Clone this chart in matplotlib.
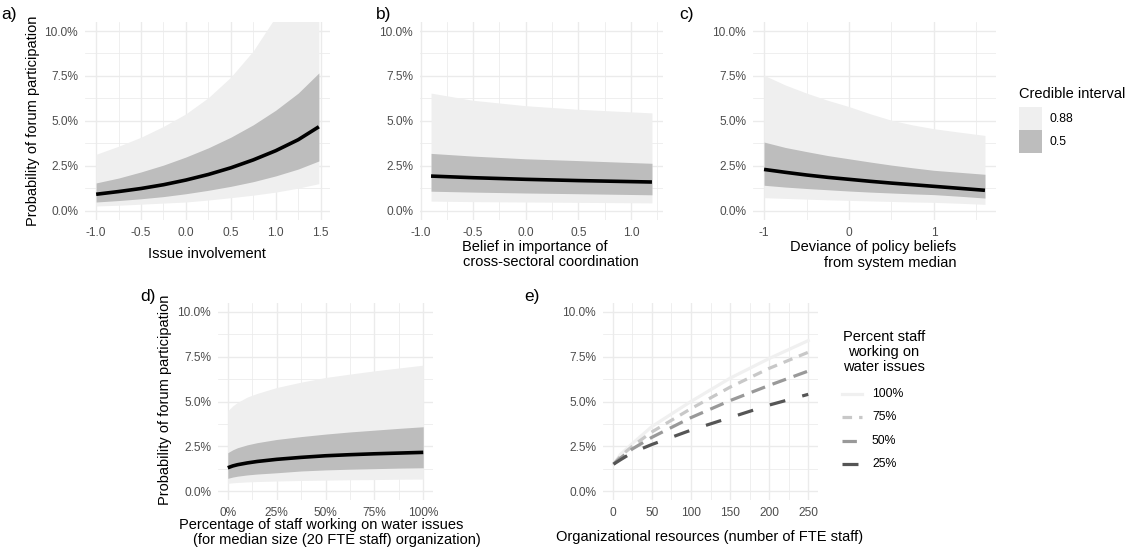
import numpy as np
import matplotlib
matplotlib.use("Agg")
import matplotlib.pyplot as plt
from matplotlib.ticker import FuncFormatter, MultipleLocator
from matplotlib.patches import Rectangle
from matplotlib.lines import Line2D

plt.rcParams['font.family'] = ['Liberation Sans', 'DejaVu Sans']

# ===== data (percent) =====
# a) issue involvement
a_x = [-1.0, -0.75, -0.5, -0.25, 0.0, 0.25, 0.5, 0.75, 1.0, 1.25, 1.48]
a_med = [0.93, 1.08, 1.25, 1.46, 1.72, 2.03, 2.4, 2.84, 3.35, 3.96, 4.68]
a_lo50 = [0.5, 0.58, 0.68, 0.8, 0.96, 1.15, 1.37, 1.63, 1.95, 2.33, 2.78]
a_hi50 = [1.56, 1.83, 2.17, 2.55, 3.0, 3.51, 4.1, 4.79, 5.6, 6.55, 7.67]
a_lo88 = [0.28, 0.32, 0.38, 0.44, 0.5, 0.61, 0.74, 0.88, 1.05, 1.27, 1.52]
a_hi88 = [3.15, 3.6, 4.1, 4.7, 5.4, 6.3, 7.44, 8.9, 10.8, 13.0, 15.5]

# b) belief in coordination
b_x = [-0.9, -0.5, 0.0, 0.5, 1.2]
b_med = [1.94, 1.85, 1.76, 1.69, 1.61]
b_lo50 = [1.10, 1.05, 1.00, 0.96, 0.90]
b_hi50 = [3.20, 3.05, 2.90, 2.80, 2.65]
b_lo88 = [0.55, 0.52, 0.50, 0.48, 0.45]
b_hi88 = [6.55, 6.15, 5.85, 5.65, 5.45]

# c) deviance of policy beliefs
c_x = [-1.0, -0.75, -0.5, -0.25, 0.0, 0.25, 0.5, 0.75, 1.0, 1.3, 1.6]
c_med = [2.31, 2.15, 2.0, 1.87, 1.76, 1.65, 1.55, 1.46, 1.37, 1.26, 1.15]
c_lo50 = [1.43, 1.33, 1.25, 1.18, 1.11, 1.05, 1.0, 0.95, 0.91, 0.82, 0.72]
c_hi50 = [3.83, 3.53, 3.3, 3.08, 2.9, 2.72, 2.55, 2.4, 2.26, 2.15, 2.04]
c_lo88 = [0.74, 0.7, 0.66, 0.62, 0.59, 0.56, 0.53, 0.5, 0.48, 0.43, 0.37]
c_hi88 = [7.54, 7.0, 6.55, 6.15, 5.8, 5.4, 5.04, 4.78, 4.57, 4.38, 4.2]

# d) percentage of staff on water issues
d_x = [0, 2.5, 5, 10, 15, 25, 37.5, 50, 62.5, 75, 87.5, 100]
d_med = [1.30, 1.40, 1.47, 1.57, 1.65, 1.77, 1.88, 1.97, 2.03, 2.08, 2.12, 2.16]
d_lo50 = [0.71, 0.78, 0.83, 0.9, 0.95, 1.02, 1.12, 1.18, 1.22, 1.25, 1.28, 1.30]
d_hi50 = [2.14, 2.3, 2.42, 2.58, 2.7, 2.88, 3.04, 3.18, 3.3, 3.40, 3.5, 3.59]
d_lo88 = [0.43, 0.46, 0.48, 0.51, 0.53, 0.56, 0.59, 0.61, 0.63, 0.64, 0.66, 0.67]
d_hi88 = [4.48, 4.75, 4.95, 5.25, 5.45, 5.78, 6.08, 6.34, 6.53, 6.71, 6.87, 7.03]

# e) organizational resources
e_x = [1, 10, 25, 50, 100, 150, 200, 250]
e_100 = [1.5, 2.05, 2.65, 3.6, 5.0, 6.3, 7.4, 8.4]
e_75 = [1.5, 1.95, 2.5, 3.3, 4.6, 5.8, 6.85, 7.75]
e_50 = [1.5, 1.85, 2.35, 3.0, 4.1, 5.05, 5.9, 6.7]
e_25 = [1.5, 1.75, 2.15, 2.6, 3.4, 4.1, 4.8, 5.4]
e_labels = ["100%", "75%", "50%", "25%"]

W, H = 1132, 555
fig = plt.figure(figsize=(W / 100, H / 100), dpi=100)

LIGHT = "#efefef"
DARK = "#bdbdbd"
GRID = "#ebebeb"
TICK = "#4d4d4d"


def px_axes(l, t, r, b):
    return fig.add_axes([l / W, 1 - b / H, (r - l) / W, (b - t) / H])


def style(ax, xmaj, xmin, xfmt=None):
    ax.set_ylim(-0.5, 10.5)
    ax.yaxis.set_major_locator(MultipleLocator(2.5))
    ax.yaxis.set_minor_locator(MultipleLocator(1.25))
    ax.yaxis.set_major_formatter(FuncFormatter(lambda v, p: f"{v:.1f}%"))
    ax.xaxis.set_major_locator(MultipleLocator(xmaj))
    ax.xaxis.set_minor_locator(MultipleLocator(xmin))
    if xfmt is not None:
        ax.xaxis.set_major_formatter(FuncFormatter(xfmt))
    ax.grid(which="major", color=GRID, lw=1.0)
    ax.grid(which="minor", color=GRID, lw=0.55)
    ax.set_axisbelow(True)
    for s in ax.spines.values():
        s.set_visible(False)
    ax.tick_params(which="both", length=0, labelsize=8.6, labelcolor=TICK, pad=5)


def bands(ax, x, lo88, hi88, lo50, hi50, med):
    ax.fill_between(x, lo88, hi88, color=LIGHT, lw=0)
    ax.fill_between(x, lo50, hi50, color=DARK, lw=0)
    ax.plot(x, med, color="black", lw=2.6, solid_capstyle="butt")


def xlim_exp(ax, lo, hi):
    d = (hi - lo) * 0.05
    ax.set_xlim(lo - d, hi + d)


# a)
ax = px_axes(85, 22, 330, 220)
bands(ax, a_x, a_lo88, a_hi88, a_lo50, a_hi50, a_med)
xlim_exp(ax, -1.0, 1.48)
style(ax, 0.5, 0.25, lambda v, p: f"{v:.1f}")

# b)
ax = px_axes(420, 22, 663, 220)
bands(ax, b_x, b_lo88, b_hi88, b_lo50, b_hi50, b_med)
xlim_exp(ax, -0.9, 1.2)
style(ax, 0.5, 0.25, lambda v, p: f"{v:.1f}")

# c)
ax = px_axes(753, 22, 996, 220)
bands(ax, c_x, c_lo88, c_hi88, c_lo50, c_hi50, c_med)
xlim_exp(ax, -1.0, 1.6)
style(ax, 1.0, 0.5, lambda v, p: f"{v:.0f}")

# d)
ax = px_axes(218, 303, 433, 500)
bands(ax, d_x, d_lo88, d_hi88, d_lo50, d_hi50, d_med)
xlim_exp(ax, 0, 100)
style(ax, 25, 12.5, lambda v, p: f"{v:.0f}%")

# e)
ax = px_axes(603, 303, 818, 500)
e_cols = ["#f0f0f0", "#c8c8c8", "#999999", "#555555"]
e_dash = [None, (3, 2.2), (4.5, 2.5), (5, 5.5)]
for ys, col, dsh in zip([e_100, e_75, e_50, e_25], e_cols, e_dash):
    ln, = ax.plot(e_x, ys, color=col, lw=2.3)
    if dsh is not None:
        ln.set_dashes(dsh)
xlim_exp(ax, 0, 250)
style(ax, 50, 25, lambda v, p: f"{v:.0f}")

# ===== text =====
TS = 10.5
fig.text(33 / W, 1 - 121 / H, "Probability of forum participation", rotation=90,
         ha="center", va="center", fontsize=TS)
fig.text(165 / W, 1 - 400 / H, "Probability of forum participation", rotation=90,
         ha="center", va="center", fontsize=TS)

fig.text(207 / W, 1 - 254 / H, "Issue involvement", ha="center", va="center", fontsize=TS)
fig.text(461.7 / W, 1 - 247 / H, "Belief in importance of", ha="left", va="center", fontsize=TS)
fig.text(463 / W, 1 - 262 / H, "cross-sectoral coordination", ha="left", va="center", fontsize=TS)
fig.text(956.7 / W, 1 - 247 / H, "Deviance of policy beliefs", ha="right", va="center", fontsize=TS)
fig.text(956.7 / W, 1 - 263 / H, "from system median", ha="right", va="center", fontsize=TS)
fig.text(179 / W, 1 - 525 / H, "Percentage of staff working on water issues", ha="left",
         va="center", fontsize=TS)
fig.text(193 / W, 1 - 540 / H, "(for median size (20 FTE staff) organization)", ha="left",
         va="center", fontsize=TS)
fig.text(710 / W, 1 - 537 / H, "Organizational resources (number of FTE staff)",
         ha="center", va="center", fontsize=TS)

for lab, x, y in [("a)", 1, 15), ("b)", 376, 15), ("c)", 679, 15),
                  ("d)", 140, 297), ("e)", 524, 297)]:
    fig.text(x / W, 1 - y / H, lab, ha="left", va="center", fontsize=12.5)

# legend: credible interval
fig.text(1019 / W, 1 - 94 / H, "Credible interval", ha="left", va="center", fontsize=TS)
for col, y0, lab in [(LIGHT, 107, "0.88"), (DARK, 130, "0.5")]:
    fig.patches.append(Rectangle((1019 / W, 1 - (y0 + 23) / H), 23 / W, 23 / H,
                                 transform=fig.transFigure, color=col, lw=0))
    fig.text(1049 / W, 1 - (y0 + 11.5) / H, lab, ha="left", va="center", fontsize=8.8)

# legend: percent staff
fig.text(884 / W, 1 - 352 / H, "Percent staff\nworking on\nwater issues", ha="center",
         va="center", multialignment="center", fontsize=TS, linespacing=1.05)
for col, dsh, lab, y in zip(e_cols, e_dash, e_labels, [394, 417, 441, 464]):
    ln = Line2D([842 / W, 862 / W], [1 - y / H, 1 - y / H], transform=fig.transFigure,
                color=col, lw=2.3)
    if dsh is not None:
        ln.set_dashes(dsh)
    fig.lines.append(ln)
    fig.text(872 / W, 1 - y / H, lab, ha="left", va="center", fontsize=8.8)

fig.savefig("out.png", dpi=100, facecolor="white")
